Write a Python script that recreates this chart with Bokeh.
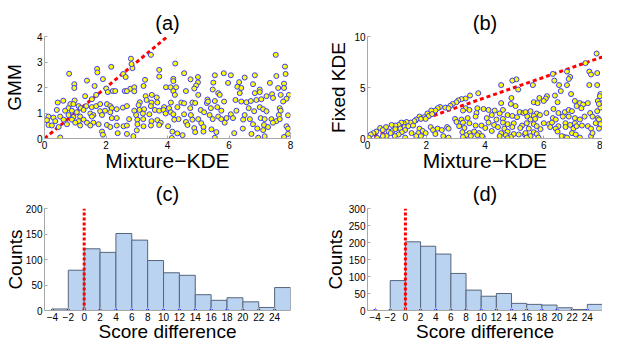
from bokeh.plotting import figure
from bokeh.layouts import gridplot
from bokeh.models import FixedTicker
from bokeh.embed import file_html
from bokeh.resources import INLINE

FONT = "Liberation Sans"

# ---------------- data ----------------
# panel (a): (Mixture-KDE, GMM)
gmm_points = [
    (0.80, 2.54), (1.71, 2.73), (2.17, 2.81), (1.72, 2.59), (2.56, 2.53), (2.64, 2.41), (0.97, 2.13),
    (0.97, 1.98), (1.38, 2.27), (1.90, 2.33), (1.63, 2.06), (1.32, 1.66), (2.01, 1.96), (2.22, 1.86),
    (2.06, 1.82), (2.30, 1.86), (2.61, 1.86), (1.68, 1.71), (1.54, 1.54), (0.43, 1.41), (0.61, 1.48),
    (0.84, 1.35), (0.98, 1.49), (0.94, 1.35), (0.78, 1.19), (1.11, 1.27), (1.18, 1.19), (1.36, 1.27),
    (1.54, 1.23), (1.68, 1.27), (1.81, 1.35), (2.03, 1.35), (2.14, 1.27), (2.19, 1.19), (2.35, 1.15),
    (2.55, 1.21), (0.40, 1.12), (0.67, 1.09), (0.89, 1.09), (1.05, 1.03), (1.27, 1.12), (1.49, 0.98),
    (1.59, 0.92), (1.81, 1.07), (1.97, 1.09), (2.14, 1.03), (0.13, 0.86), (0.29, 0.82), (0.51, 0.86),
    (0.78, 0.92), (0.94, 0.84), (1.16, 0.86), (1.27, 0.74), (1.54, 0.86), (1.87, 0.92), (2.19, 0.80),
    (2.35, 0.80), (0.08, 0.72), (0.35, 0.68), (0.62, 0.74), (0.89, 0.74), (1.11, 0.68), (1.38, 0.62),
    (1.59, 0.62), (0.13, 0.53), (0.24, 0.51), (0.46, 0.45), (0.73, 0.56), (1.00, 0.62), (1.16, 0.51),
    (1.49, 0.51), (1.76, 0.56), (2.03, 0.53), (2.14, 0.45), (2.35, 0.51), (2.57, 0.48), (1.87, 0.27),
    (1.90, 0.15), (2.38, 0.21), (0.51, 0.04),
    (3.46, 3.28), (2.81, 3.13), (2.86, 2.76), (2.83, 2.92), (4.25, 2.94), (3.73, 2.69), (3.73, 2.43),
    (3.27, 2.30), (4.19, 2.34), (4.19, 2.25), (4.54, 2.56), (4.99, 2.41), (4.75, 2.32), (4.99, 2.20),
    (4.93, 2.08), (4.87, 1.96), (2.79, 1.95), (2.92, 2.01), (3.22, 2.06), (3.95, 2.01), (4.10, 2.01),
    (4.28, 2.01), (2.68, 1.86), (2.92, 1.85), (4.19, 1.86), (4.24, 1.71), (4.60, 1.86), (5.30, 1.53),
    (5.28, 1.39), (5.00, 1.71), (3.29, 1.66), (3.49, 1.71), (3.65, 1.61), (3.32, 1.51), (3.10, 1.42),
    (3.48, 1.41), (3.67, 1.41), (4.11, 1.41), (4.45, 1.41), (4.54, 1.38), (4.81, 1.41), (4.90, 1.39),
    (2.68, 1.27), (3.06, 1.31), (3.46, 1.27), (3.89, 1.23), (4.05, 1.19), (4.32, 1.23), (4.74, 1.19),
    (5.08, 1.12), (2.92, 1.09), (3.09, 1.12), (3.24, 1.15), (3.59, 1.12), (3.73, 1.09), (3.87, 1.12),
    (4.11, 1.03), (4.54, 0.95), (4.76, 0.92), (5.19, 1.03), (2.98, 0.92), (3.20, 0.98), (3.41, 0.95),
    (3.94, 0.98), (4.19, 0.95), (4.36, 0.76), (2.75, 0.76), (3.02, 0.74), (3.21, 0.76), (3.48, 0.68),
    (3.67, 0.72), (3.78, 0.62), (4.22, 0.74), (4.60, 0.65), (4.81, 0.74), (5.00, 0.76), (5.10, 0.60),
    (2.68, 0.51), (3.02, 0.56), (3.22, 0.48), (3.46, 0.51), (3.73, 0.53), (4.02, 0.48), (4.65, 0.53),
    (4.87, 0.41), (5.17, 0.45), (3.00, 0.32), (4.16, 0.27), (4.32, 0.20), (4.49, 0.13), (2.68, 0.18),
    (2.89, 0.09), (4.90, 0.25), (5.17, 0.27), (4.14, 0.02),
    (7.52, 3.28), (7.82, 2.82), (5.54, 2.48), (5.83, 2.56), (6.06, 2.48), (6.51, 2.39), (6.84, 2.48),
    (7.33, 2.18), (7.54, 2.45), (7.84, 2.53), (5.49, 2.19), (5.97, 2.18), (6.33, 2.21), (6.78, 2.13),
    (7.79, 2.15), (6.27, 2.03), (6.40, 1.98), (5.47, 1.92), (7.00, 1.92), (7.60, 1.98), (7.79, 1.98),
    (5.65, 1.78), (5.70, 1.71), (6.35, 1.78), (6.84, 1.78), (7.00, 1.82), (7.40, 1.74), (7.68, 1.71),
    (7.95, 1.71), (5.32, 1.45), (5.54, 1.47), (5.84, 1.45), (6.21, 1.51), (6.40, 1.45), (6.57, 1.42),
    (6.71, 1.47), (6.89, 1.51), (7.05, 1.54), (7.22, 1.66), (7.43, 1.59), (7.87, 1.56), (7.76, 1.45),
    (5.41, 1.19), (5.62, 1.23), (5.75, 1.09), (6.06, 0.95), (6.24, 1.09), (6.64, 1.19), (7.00, 1.23),
    (7.11, 1.15), (7.22, 1.07), (7.65, 1.19), (7.68, 1.09), (5.37, 0.92), (5.65, 0.86), (5.92, 0.80),
    (6.13, 0.80), (6.51, 0.92), (6.82, 1.07), (7.03, 0.80), (7.38, 0.76), (7.62, 0.92), (7.92, 0.91),
    (5.47, 0.76), (5.75, 0.76), (6.46, 0.74), (6.68, 0.76), (7.16, 0.76), (7.54, 0.68), (7.65, 0.76),
    (5.86, 0.62), (6.78, 0.56), (7.14, 0.53), (7.43, 0.62), (7.27, 0.45), (7.87, 0.48), (7.92, 0.39),
    (5.43, 0.36), (6.17, 0.21), (6.45, 0.39), (6.92, 0.39), (7.11, 0.33), (5.59, 0.25), (6.73, 0.18),
    (6.95, 0.03), (5.54, 0.03), (7.79, 0.06), (7.92, 0.18), (7.16, 0.09),
]

# panel (b): (Mixture-KDE, Fixed KDE)
fixed_points = [
    (2.47, 3.09), (2.39, 2.97), (2.31, 2.74), (2.17, 2.74), (2.04, 2.45), (2.09, 2.21), (2.20, 2.39),
    (1.93, 2.09), (1.77, 2.15), (1.82, 1.92), (1.98, 1.92), (1.66, 1.86), (1.60, 1.71), (1.47, 1.56),
    (1.33, 1.62), (1.23, 1.50), (1.15, 1.56), (1.06, 1.33), (0.95, 1.27), (0.82, 1.33), (0.63, 1.12),
    (0.43, 1.03), (0.30, 0.68), (0.20, 0.53), (0.52, 0.83), (0.72, 0.68), (0.85, 0.74), (0.95, 0.92),
    (1.12, 0.97), (1.26, 1.12), (1.39, 1.21), (1.55, 1.27), (1.28, 0.83), (1.17, 0.62), (1.06, 0.39),
    (0.93, 0.24), (0.79, 0.53), (0.65, 0.24), (0.33, 0.05), (1.77, 0.97), (1.88, 0.74), (1.98, 0.53),
    (1.73, 0.53), (1.66, 0.24), (1.82, 0.24), (2.15, 1.12), (2.23, 0.83), (2.39, 0.97), (2.53, 0.83),
    (2.31, 0.44), (2.58, 0.24), (1.28, 0.09), (1.50, 0.53), (0.52, 0.24), (0.11, 0.39), (0.04, 0.09),
    (5.07, 5.80), (4.93, 5.68), (4.55, 5.24), (5.13, 4.80), (3.77, 4.44), (3.49, 4.21), (4.90, 3.97),
    (3.34, 3.92), (3.20, 3.86), (3.09, 3.74), (3.03, 3.56), (2.90, 3.39), (2.82, 3.21), (2.65, 3.03),
    (2.76, 2.97), (4.55, 3.47), (4.88, 3.39), (5.04, 3.18), (3.34, 2.97), (3.47, 2.80), (3.74, 2.97),
    (3.95, 2.89), (4.12, 2.80), (4.33, 2.74), (4.61, 2.80), (3.25, 2.74), (5.18, 2.59), (5.31, 2.50),
    (4.50, 2.45), (4.77, 2.30), (4.93, 2.21), (4.23, 2.30), (3.71, 2.50), (3.68, 2.15), (2.98, 1.92),
    (3.20, 1.86), (3.41, 2.00), (4.06, 2.00), (4.39, 1.86), (4.61, 1.92), (5.09, 2.09), (3.03, 1.62),
    (3.25, 1.56), (3.47, 1.50), (3.88, 1.27), (4.12, 1.56), (4.31, 1.33), (4.61, 1.56), (4.77, 1.41),
    (4.98, 1.50), (5.26, 1.27), (2.71, 1.12), (3.12, 1.21), (3.30, 1.03), (3.68, 1.27), (4.01, 1.03),
    (4.44, 1.12), (4.66, 0.97), (4.93, 1.12), (5.20, 1.03), (2.76, 0.97), (3.23, 0.62), (3.47, 0.53),
    (3.63, 0.68), (3.79, 0.53), (4.23, 0.74), (4.55, 0.53), (4.77, 0.68), (4.98, 0.44), (3.36, 0.33),
    (3.52, 0.24), (3.74, 0.33), (3.90, 0.24), (4.50, 0.24), (4.71, 0.33), (4.88, 0.15), (5.15, 0.39),
    (2.76, 0.09), (3.25, 0.15), (4.77, 0.03), (5.36, 0.39),
    (7.80, 8.33), (7.42, 7.39), (7.55, 6.56), (7.61, 6.27), (7.82, 6.42), (6.79, 6.56), (6.90, 6.03),
    (6.85, 5.83), (6.31, 6.33), (6.36, 5.68), (5.63, 5.24), (6.52, 5.24), (6.79, 5.24), (7.55, 5.24),
    (7.82, 5.24), (6.58, 4.65), (6.93, 4.36), (6.38, 4.21), (5.85, 3.97), (6.11, 4.15), (6.07, 3.92),
    (6.00, 3.68), (5.66, 3.56), (5.79, 3.47), (6.47, 3.56), (7.06, 3.68), (7.23, 3.47), (7.34, 3.33),
    (7.50, 3.47), (7.93, 4.36), (7.91, 4.15), (7.84, 3.68), (7.99, 3.47), (7.93, 3.03), (7.88, 3.39),
    (7.12, 3.18), (7.28, 2.97), (5.38, 2.59), (5.55, 2.68), (5.76, 2.45), (6.09, 2.50), (6.33, 2.89),
    (6.50, 2.50), (6.72, 2.59), (6.85, 2.80), (6.96, 2.68), (7.58, 2.50), (7.82, 2.68), (5.44, 2.15),
    (5.66, 2.21), (5.87, 2.30), (6.65, 2.15), (6.85, 2.15), (7.06, 2.00), (7.39, 2.15), (7.66, 2.15),
    (7.84, 2.00), (5.55, 1.86), (5.71, 1.92), (6.31, 2.00), (6.41, 1.86), (7.23, 1.86), (7.88, 1.86),
    (5.42, 1.50), (5.66, 1.41), (6.00, 1.50), (6.18, 1.41), (6.28, 1.56), (6.50, 1.21), (6.74, 1.50),
    (6.90, 1.33), (7.06, 1.50), (7.30, 1.27), (7.50, 1.21), (7.77, 1.50), (7.93, 1.41), (5.49, 0.97),
    (5.76, 1.21), (5.89, 0.92), (6.22, 1.12), (6.41, 0.97), (6.74, 1.12), (7.01, 0.97), (7.12, 1.21),
    (7.61, 0.97), (7.88, 0.97), (5.38, 0.53), (5.55, 0.24), (5.66, 0.62), (5.76, 0.44), (5.82, 0.09),
    (6.47, 0.68), (6.69, 0.15), (6.79, 0.09), (6.96, 0.53), (7.09, 0.39), (7.23, 0.09), (7.61, 0.24),
    (7.66, 0.53), (6.61, 0.24), (5.42, 0.09),
]

# diagonal reference lines (y = x)
diag_a = [0, 4]
diag_b = [0, 8]

# histograms: bins of width 2 from -4 to 26
bin_edges = [-4, -2, 0, 2, 4, 6, 8, 10, 12, 14, 16, 18, 20, 22, 24, 26]
counts_c = [3, 79, 121, 114, 151, 138, 98, 74, 69, 31, 20, 25, 17, 6, 45]
counts_d = [0, 88, 202, 189, 166, 109, 60, 42, 50, 21, 18, 16, 8, 3, 18]
hist_ticks = [-4, -2, 0, 2, 4, 6, 8, 10, 12, 14, 16, 18, 20, 22, 24]
zero_line_c = [0, 200]
zero_line_d = [0, 300]

AXIS_GRAY = "#a8a8a8"


def style(p, xlabel, ylabel, title, standoff, xsize, ystandoff):
    p.title.text = title
    p.title.align = "center"
    p.title.text_font = FONT
    p.title.text_font_size = "20px"
    p.title.text_font_style = "normal"
    p.title.text_color = "black"
    p.title.standoff = standoff
    p.xgrid.visible = False
    p.ygrid.visible = False
    p.outline_line_color = None
    for ax in (p.xaxis[0], p.yaxis[0]):
        ax.axis_line_color = AXIS_GRAY
        ax.major_tick_line_color = AXIS_GRAY
        ax.major_tick_in = 3
        ax.major_tick_out = 0
        ax.minor_tick_line_color = None
        ax.major_label_text_font = FONT
        ax.major_label_text_font_size = "10px"
        ax.major_label_text_color = "black"
        ax.major_label_standoff = 2
        ax.axis_label_text_font = FONT
        ax.axis_label_text_font_style = "normal"
        ax.axis_label_text_color = "black"
    p.xaxis.axis_label = xlabel
    p.yaxis.axis_label = ylabel
    p.xaxis.axis_label_text_font_size = xsize
    p.yaxis.axis_label_text_font_size = "19px"
    p.xaxis.axis_label_standoff = -3
    p.yaxis.axis_label_standoff = ystandoff


def make_fig(w, h, left, right, top, bottom, xr, yr):
    return figure(width=w, height=h, x_range=xr, y_range=yr, output_backend="svg",
                  toolbar_location=None, min_border_left=left, min_border_right=right,
                  min_border_top=top, min_border_bottom=bottom, background_fill_color="white",
                  border_fill_color="white")


def scatter_panel(pts, diag, left, right, yr, yticks, ylabel, title, ystandoff):
    p = make_fig(301, 174, left, right, 36, 20, (0, 8), yr)
    p.line(diag, diag, line_color="red", line_width=3, line_dash="4 3")
    xs = [q[0] for q in pts]
    ys = [q[1] for q in pts]
    p.scatter(xs, ys, size=5, fill_color="#ffff00", line_color="#3a3aff", line_width=1)
    p.xaxis.ticker = FixedTicker(ticks=[0, 2, 4, 6, 8])
    p.yaxis.ticker = FixedTicker(ticks=yticks)
    style(p, "Mixture\u2212KDE", ylabel, title, 6, "21px", ystandoff)
    return p


def hist_panel(counts, zline, left, right, ymax, yticks, title, ystandoff):
    p = make_fig(301, 170, left, right, 34, 20, (-5, 26), (0, ymax))
    p.quad(left=bin_edges[:-1], right=bin_edges[1:], bottom=0, top=counts,
           fill_color="#b9d3f1", line_color="#56657c", line_width=1)
    p.scatter(hist_ticks, [0] * len(hist_ticks), size=3, marker="square",
              fill_color="#3030ff", line_color=None)
    p.line([0, 0], zline, line_color="red", line_width=3, line_dash="3 2")
    p.xaxis.ticker = FixedTicker(ticks=hist_ticks)
    p.xaxis.major_label_overrides = {-4: "\u22124", -2: "\u22122"}
    p.yaxis.ticker = FixedTicker(ticks=yticks)
    style(p, "Score difference", "Counts", title, 7, "19px", ystandoff)
    return p


pa = scatter_panel(gmm_points, diag_a, 44, 11, (0, 4), [0, 1, 2, 3, 4], "GMM", "(a)", 9)
pb = scatter_panel(fixed_points, diag_b, 66, 0, (0, 10), [0, 5, 10], "Fixed KDE", "(b)", 2)
pc = hist_panel(counts_c, zero_line_c, 44, 10, 200, [0, 50, 100, 150, 200], "(c)", -3)
pd = hist_panel(counts_d, zero_line_d, 66, 0, 300, [0, 50, 100, 150, 200, 250, 300], "(d)", 0)

grid = gridplot([[pa, pb], [pc, pd]], toolbar_location=None)

open("out.html", "w").write(file_html(grid, INLINE))
